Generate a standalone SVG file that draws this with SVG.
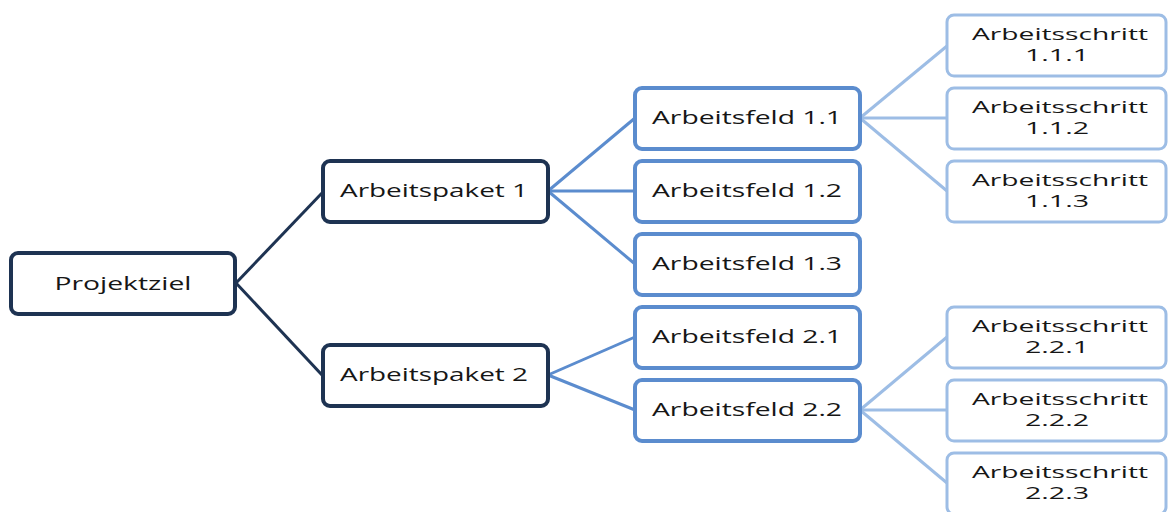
<svg xmlns="http://www.w3.org/2000/svg" width="1168" height="512" viewBox="0 0 1168 512">
  <style>
    .box { fill: #ffffff; }
    .l0 { stroke: #1e3352; stroke-width: 4; }
    .l2 { stroke: #5b8cce; stroke-width: 4; }
    .l3 { stroke: #9dbde5; stroke-width: 3; }
    text { font-family: "Open Sans", "Liberation Sans", sans-serif; font-size: 18px; fill: #161616; text-anchor: middle; }
    text.step { font-size: 17px; }
    .c0 { stroke: #1e3352; stroke-width: 3; fill: none; }
    .c2 { stroke: #5b8cce; stroke-width: 3; fill: none; }
    .c3 { stroke: #9dbde5; stroke-width: 3; fill: none; }
  </style>
  <rect width="1168" height="512" fill="#ffffff"/>

  <g id="connectors">
    <line class="c0" x1="236" y1="283" x2="322" y2="193"/>
    <line class="c0" x1="236" y1="283" x2="322" y2="375"/>
    <line class="c2" x1="548" y1="191" x2="635" y2="118"/>
    <line class="c2" x1="548" y1="191" x2="635" y2="191"/>
    <line class="c2" x1="548" y1="191" x2="635" y2="264"/>
    <line class="c2" x1="548" y1="375" x2="635" y2="337"/>
    <line class="c2" x1="548" y1="375" x2="635" y2="410"/>
    <line class="c3" x1="860" y1="118" x2="947" y2="46"/>
    <line class="c3" x1="860" y1="118" x2="947" y2="118"/>
    <line class="c3" x1="860" y1="118" x2="947" y2="191"/>
    <line class="c3" x1="860" y1="410" x2="947" y2="337"/>
    <line class="c3" x1="860" y1="410" x2="947" y2="410"/>
    <line class="c3" x1="860" y1="410" x2="947" y2="483"/>
  </g>

  <g id="projektziel">
    <rect class="box l0" x="11" y="253" width="224" height="61" rx="7"/>
    <text x="123" y="290" textLength="137" lengthAdjust="spacingAndGlyphs">Projektziel</text>
  </g>

  <g id="arbeitspaket-1">
    <rect class="box l0" x="323" y="161" width="225" height="61" rx="7"/>
    <text x="434" y="197" textLength="188" lengthAdjust="spacingAndGlyphs">Arbeitspaket 1</text>
  </g>
  <g id="arbeitspaket-2">
    <rect class="box l0" x="323" y="345" width="225" height="61" rx="7"/>
    <text x="434" y="381" textLength="188" lengthAdjust="spacingAndGlyphs">Arbeitspaket 2</text>
  </g>

  <g id="arbeitsfeld-1-1">
    <rect class="box l2" x="635" y="88" width="225" height="61" rx="7"/>
    <text x="747" y="124" textLength="190" lengthAdjust="spacingAndGlyphs">Arbeitsfeld 1.1</text>
  </g>
  <g id="arbeitsfeld-1-2">
    <rect class="box l2" x="635" y="161" width="225" height="61" rx="7"/>
    <text x="747" y="197" textLength="190" lengthAdjust="spacingAndGlyphs">Arbeitsfeld 1.2</text>
  </g>
  <g id="arbeitsfeld-1-3">
    <rect class="box l2" x="635" y="234" width="225" height="61" rx="7"/>
    <text x="747" y="270" textLength="190" lengthAdjust="spacingAndGlyphs">Arbeitsfeld 1.3</text>
  </g>
  <g id="arbeitsfeld-2-1">
    <rect class="box l2" x="635" y="307" width="225" height="61" rx="7"/>
    <text x="747" y="343" textLength="190" lengthAdjust="spacingAndGlyphs">Arbeitsfeld 2.1</text>
  </g>
  <g id="arbeitsfeld-2-2">
    <rect class="box l2" x="635" y="380" width="225" height="61" rx="7"/>
    <text x="747" y="416" textLength="190" lengthAdjust="spacingAndGlyphs">Arbeitsfeld 2.2</text>
  </g>

  <g id="arbeitsschritt-1-1-1">
    <rect class="box l3" x="947" y="15" width="219" height="61" rx="7"/>
    <text class="step" x="1060" y="40" textLength="176" lengthAdjust="spacingAndGlyphs">Arbeitsschritt</text>
    <text class="step" x="1057" y="61" textLength="64" lengthAdjust="spacingAndGlyphs">1.1.1</text>
  </g>
  <g id="arbeitsschritt-1-1-2">
    <rect class="box l3" x="947" y="88" width="219" height="61" rx="7"/>
    <text class="step" x="1060" y="113" textLength="176" lengthAdjust="spacingAndGlyphs">Arbeitsschritt</text>
    <text class="step" x="1057" y="134" textLength="64" lengthAdjust="spacingAndGlyphs">1.1.2</text>
  </g>
  <g id="arbeitsschritt-1-1-3">
    <rect class="box l3" x="947" y="161" width="219" height="61" rx="7"/>
    <text class="step" x="1060" y="186" textLength="176" lengthAdjust="spacingAndGlyphs">Arbeitsschritt</text>
    <text class="step" x="1057" y="207" textLength="64" lengthAdjust="spacingAndGlyphs">1.1.3</text>
  </g>
  <g id="arbeitsschritt-2-2-1">
    <rect class="box l3" x="947" y="307" width="219" height="61" rx="7"/>
    <text class="step" x="1060" y="332" textLength="176" lengthAdjust="spacingAndGlyphs">Arbeitsschritt</text>
    <text class="step" x="1057" y="353" textLength="64" lengthAdjust="spacingAndGlyphs">2.2.1</text>
  </g>
  <g id="arbeitsschritt-2-2-2">
    <rect class="box l3" x="947" y="380" width="219" height="61" rx="7"/>
    <text class="step" x="1060" y="405" textLength="176" lengthAdjust="spacingAndGlyphs">Arbeitsschritt</text>
    <text class="step" x="1057" y="426" textLength="64" lengthAdjust="spacingAndGlyphs">2.2.2</text>
  </g>
  <g id="arbeitsschritt-2-2-3">
    <rect class="box l3" x="947" y="453" width="219" height="61" rx="7"/>
    <text class="step" x="1060" y="478" textLength="176" lengthAdjust="spacingAndGlyphs">Arbeitsschritt</text>
    <text class="step" x="1057" y="499" textLength="64" lengthAdjust="spacingAndGlyphs">2.2.3</text>
  </g>
</svg>
